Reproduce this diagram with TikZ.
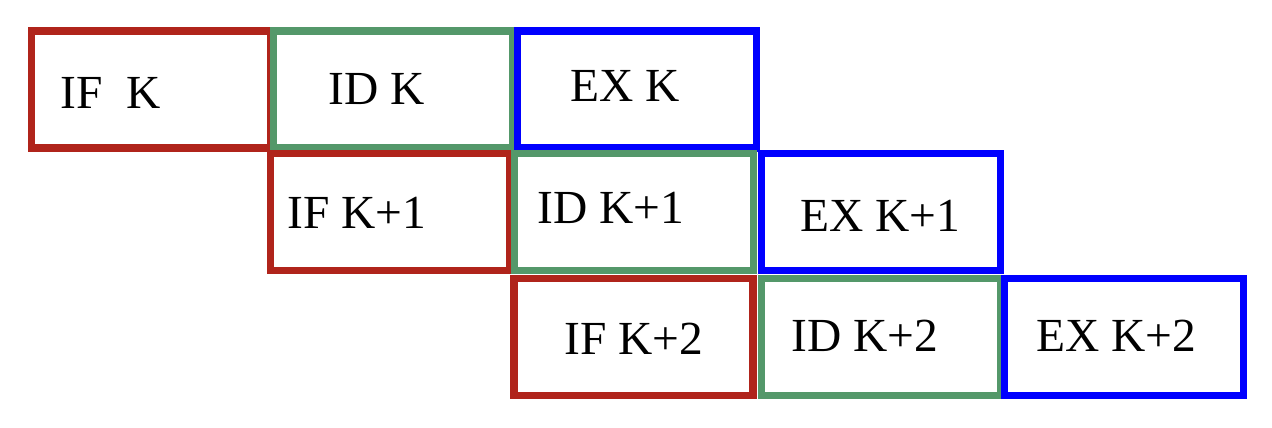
\documentclass[tikz,border=0pt]{standalone}
\usepackage{fontspec}
\setmainfont{Liberation Serif}
\definecolor{ifred}{RGB}{176,36,27}
\definecolor{idgreen}{RGB}{84,152,106}
\definecolor{exblue}{RGB}{0,0,255}

\begin{document}
\begin{tikzpicture}[
    stage/.style={draw, line width=2pt, minimum width=2.39cm, minimum height=1.17cm, inner sep=0pt},
    fetch/.style={stage, draw=ifred},
    decode/.style={stage, draw=idgreen},
    execute/.style={stage, draw=exblue},
    lbl/.style={font=\fontsize{13.5}{16}\selectfont, inner sep=0pt}]
          \useasboundingbox (0,0) rectangle (12.72,-4.28);
          % instruction K
          \node[fetch]   (ifk)  at (1.51,-0.895) {};
          \node[decode]  (idk)  at (3.93,-0.895) {};
          \node[execute] (exk)  at (6.37,-0.895) {};
          % instruction K+1
          \node[fetch]   (ifk1) at (3.90,-2.12) {};
          \node[decode]  (idk1) at (6.34,-2.12) {};
          \node[execute] (exk1) at (8.81,-2.12) {};
          % instruction K+2
          \node[fetch]   (ifk2) at (6.335,-3.37) {};
          \node[decode]  (idk2) at (8.81,-3.37) {};
          \node[execute] (exk2) at (11.24,-3.37) {};
          % labels
          \node[lbl] (tifk)  at (1.11,-0.93)  {IF~~K};
          \node[lbl] (tidk)  at (3.77,-0.89)  {ID K};
          \node[lbl] (texk)  at (6.25,-0.86)  {EX K};
          \node[lbl] (tifk1) at (3.57,-2.13)  {IF K+1};
          \node[lbl] (tidk1) at (6.11,-2.08)  {ID K+1};
          \node[lbl] (texk1) at (8.80,-2.16)  {EX K+1};
          \node[lbl] (tifk2) at (6.34,-3.39)  {IF K+2};
          \node[lbl] (tidk2) at (8.65,-3.36)  {ID K+2};
          \node[lbl] (texk2) at (11.16,-3.36) {EX K+2};
\end{tikzpicture}
\end{document}
